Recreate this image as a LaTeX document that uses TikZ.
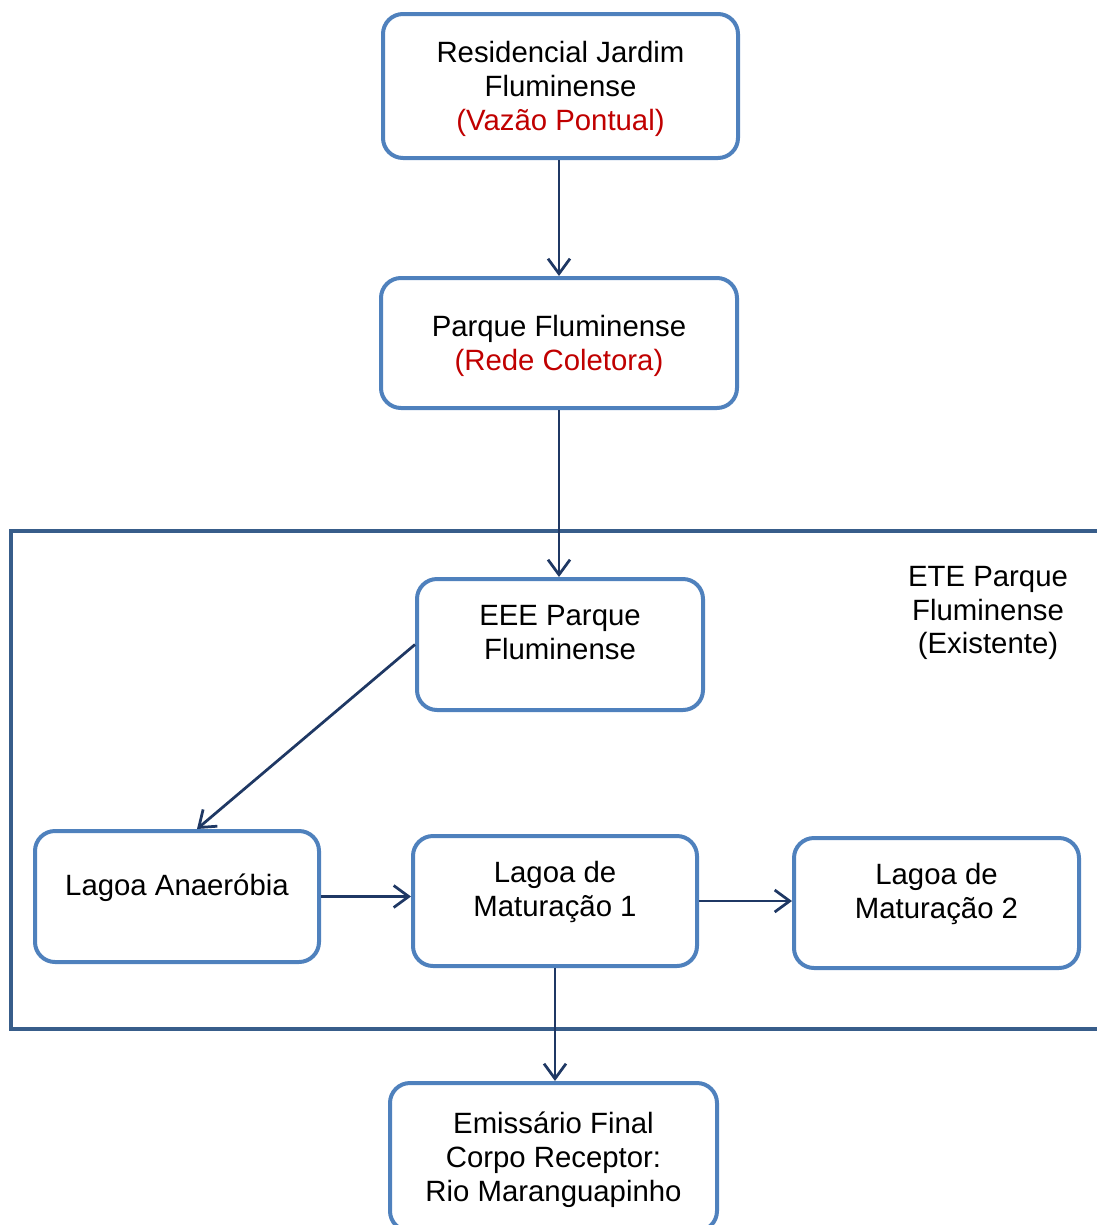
\documentclass[tikz,border=0pt]{standalone}
\usepackage{fontspec}
\setmainfont{Liberation Sans}
\usepackage{xcolor}
\usetikzlibrary{arrows.meta}

\definecolor{boxblue}{RGB}{79,129,189}
\definecolor{frameblue}{RGB}{56,93,138}
\definecolor{arrowblue}{RGB}{31,56,100}
\definecolor{textred}{RGB}{192,0,0}

\tikzset{
	box/.style = {draw=boxblue, line width=0.08cm, rounded corners=0.4cm,
		align=center, inner sep=0pt, text depth=0pt,
		font=\fontsize{16.7}{19.3}\selectfont},
	pond/.style = {box, text depth=0.48cm},
	flow/.style = {arrowblue, line width=0.055cm,
		-{Straight Barb[length=0.3cm, width=0.44cm]}},
}

\begin{document}
\begin{tikzpicture}
		\useasboundingbox (0,0) rectangle (21.94,-24.5);
		
		\coordinate (f1) at (0.22,-10.62);
		\coordinate (f2) at (22.3,-20.58);
		
		% ETE frame
		\draw [frameblue, line width=0.09cm] (f1) rectangle (f2);
		\node (ete) at (19.76,-12.26) [align=center, font=\fontsize{16.7}{19.3}\selectfont]
			{ETE Parque\\Fluminense\\(Existente)};
		
		\node (res) at (11.21,-1.72) [box, minimum width=7.1cm, minimum height=2.88cm]
			{Residencial Jardim\\Fluminense\\{\color{textred}(Vazão Pontual)}};
		\node (parq) at (11.18,-6.86) [box, minimum width=7.12cm, minimum height=2.6cm]
			{Parque Fluminense\\{\color{textred}(Rede Coletora)}};
		\node (eee) at (11.2,-12.89) [pond, minimum width=5.72cm, minimum height=2.62cm]
			{EEE Parque\\Fluminense};
		\node (anae) at (3.54,-17.93) [pond, minimum width=5.68cm, minimum height=2.62cm]
			{Lagoa Anaeróbia};
		\node (mat1) at (11.1,-18.02) [pond, minimum width=5.68cm, minimum height=2.6cm]
			{Lagoa de\\Maturação 1};
		\node (mat2) at (18.73,-18.06) [pond, minimum width=5.7cm, minimum height=2.6cm]
			{Lagoa de\\Maturação 2};
		\node (emis) at (11.07,-23.14) [box, minimum width=6.54cm, minimum height=2.96cm]
			{Emissário Final\\Corpo Receptor:\\Rio Maranguapinho};
		
		\begin{scope}[flow]
			\draw (parq.north |- res.south) -- (parq.north);
			\draw (parq.south) -- (parq.south |- eee.north);
			\draw (eee.west) -- ([xshift=0.4cm]anae.north);
			\draw (anae.east) -- (anae.east -| mat1.west);
			\draw (mat1.east) -- (mat1.east -| mat2.west);
			\draw (mat1.south) -- (mat1.south |- emis.north);
		\end{scope}
	\end{tikzpicture}
\end{document}
